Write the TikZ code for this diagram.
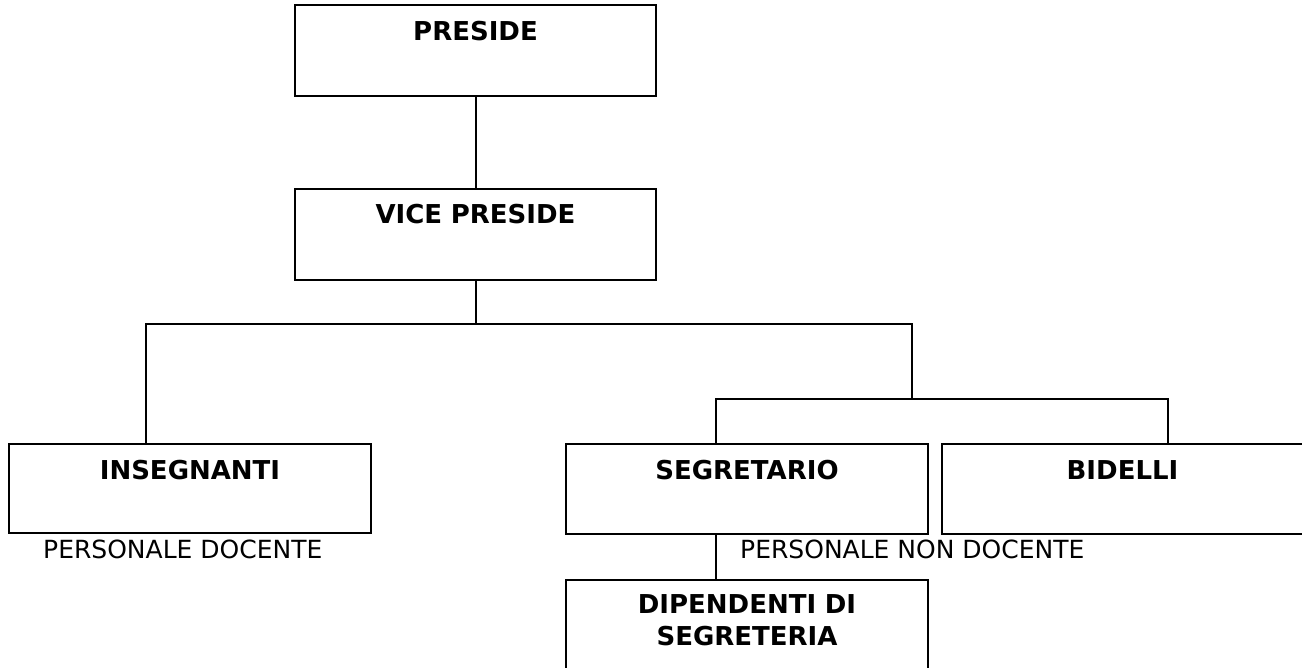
\documentclass[tikz,border=0pt]{standalone}
\usepackage{fontspec}
\setmainfont{DejaVu Sans}
\begin{document}
\begin{tikzpicture}[x=1pt, y=-1pt,
  link/.style={line width=1.8pt, line cap=rect},
  orgbox/.style={draw, line width=1.8pt, inner sep=0pt, outer sep=0pt,
    anchor=north west, align=center, text width=#1,
    font=\bfseries\fontsize{26}{32}\selectfont},
  grouplabel/.style={inner sep=0pt, anchor=base west,
    font=\fontsize{25}{30}\selectfont}]
  \useasboundingbox (0,0) rectangle (1302,668);

  % staff boxes (text sits near the top edge)
  \node[orgbox=361pt, text height=36pt, text depth=55pt] (preside) at (295,5) {PRESIDE};
  \node[orgbox=361pt, text height=35pt, text depth=56pt] (vice) at (295,189) {VICE PRESIDE};
  \node[orgbox=362pt, text height=35pt, text depth=54pt] (insegnanti) at (9,444) {INSEGNANTI};
  \node[orgbox=362pt, text height=35pt, text depth=55pt] (segretario) at (566,444) {SEGRETARIO};
  \node[orgbox=361pt, text height=35pt, text depth=55pt] (bidelli) at (942,444) {BIDELLI};
  \node[orgbox=362pt, text height=33pt, text depth=87pt] (dipendenti) at (566,580) {DIPENDENTI DI\\SEGRETERIA};

  % group captions
  \node[grouplabel] (docenti) at (43,558) {PERSONALE DOCENTE};
  \node[grouplabel] (nondocenti) at (740,558) {PERSONALE NON DOCENTE};

  % junction points of the tree
  \coordinate (split) at (476,324);
  \coordinate (hubL) at (146,324);
  \coordinate (hubR) at (912,324);
  \coordinate (staffL) at (716,399);
  \coordinate (staffR) at (1168,399);

  % connectors
  \draw[link] (preside.south -| split) -- (vice.north -| split);
  \draw[link] (vice.south -| split) -- (split);
  \draw[link] (insegnanti.north -| hubL) -- (hubL) -- (hubR);
  \draw[link] (hubR) -- (hubR |- staffL);
  \draw[link] (segretario.north -| staffL) -- (staffL) -- (staffR) -- (staffR |- bidelli.north);
  \draw[link] (segretario.south -| staffL) -- (dipendenti.north -| staffL);
\end{tikzpicture}
\end{document}
